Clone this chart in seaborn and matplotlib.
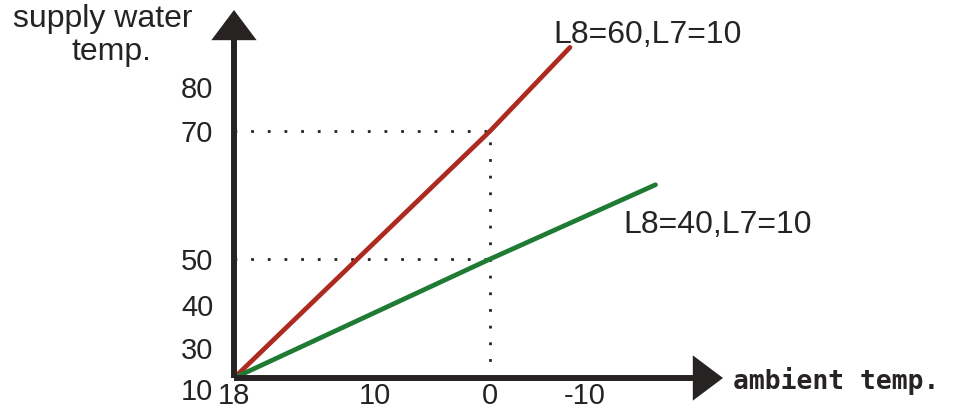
"""Supply water temperature curve vs ambient temperature (L8/L7 settings)."""
import numpy as np
import pandas as pd
import matplotlib
matplotlib.use("Agg")
import matplotlib.pyplot as plt
import seaborn as sns

# curve data: ambient temp -> supply water temp
AMB_RED = [18, 0, -8.4]
SUP_RED = [10, 70, 89]
AMB_GREEN = [18, 0, -17.4]
SUP_GREEN = [10, 50, 61.6]
LABEL_RED = "L8=60,L7=10"
LABEL_GREEN = "L8=40,L7=10"

X_TICKS = [18, 10, 0, -10]
Y_TICKS = [10, 30, 40, 50, 70, 80]

# schematic (non-uniform) axis spacing, in pixels from the origin
X_POS = [0, 141, 256, 351]
Y_POS = [0, 30, 73, 119, 247, 291]

RED = "#ad2a20"
GREEN = "#1f7a34"
INK = "#262322"


def piecewise(xp, fp):
    xp = np.asarray(xp, float)
    fp = np.asarray(fp, float)

    def make(a, b):
        lo = (b[1] - b[0]) / (a[1] - a[0])
        hi = (b[-1] - b[-2]) / (a[-1] - a[-2])

        def f(v):
            v = np.asarray(v, float)
            out = np.interp(v, a, b)
            out = np.where(v < a[0], b[0] + (v - a[0]) * lo, out)
            out = np.where(v > a[-1], b[-1] + (v - a[-1]) * hi, out)
            return out
        return f
    return make(xp, fp), make(fp, xp)


def main():
    sns.set_style("white")
    plt.rcParams["font.family"] = ["Liberation Sans", "DejaVu Sans"]

    fig = plt.figure(figsize=(9.54, 4.16), dpi=100)
    W, H = 954, 416
    ox, oy = 234, 378
    ax = fig.add_axes([ox / W, 1 - oy / H, (723 - ox) / W, (oy - 10) / H])

    df = pd.concat([
        pd.DataFrame({"ambient": AMB_RED, "supply": SUP_RED, "curve": LABEL_RED}),
        pd.DataFrame({"ambient": AMB_GREEN, "supply": SUP_GREEN, "curve": LABEL_GREEN}),
    ])
    sns.lineplot(data=df, x="ambient", y="supply", hue="curve",
                 palette={LABEL_RED: RED, LABEL_GREEN: GREEN},
                 linewidth=3.4, legend=False, ax=ax, zorder=3)

    # dotted guides at (0, 70) and 50
    dot = dict(color=INK, lw=2.0, linestyle=(0, (1, 5)), zorder=2)
    ax.plot([X_TICKS[0], 0], [70, 70], **dot)
    ax.plot([0, 0], [Y_TICKS[0], 70], **dot)
    ax.plot([X_TICKS[0], 0], [50, 50], **dot)

    # schematic scales (x increasing scale, then reversed by the limits)
    fx, ix = piecewise([-v for v in X_TICKS], X_POS)
    ax.set_xscale("function", functions=(lambda v: -fx(-np.asarray(v, float)),
                                         lambda p: -ix(-np.asarray(p, float))))
    fy, iy = piecewise(Y_TICKS, Y_POS)
    ax.set_yscale("function", functions=(fy, iy))
    ax.set_xlim(18, -24.5)
    ax.set_ylim(10, 97.5)

    ax.set_xticks(X_TICKS)
    ax.set_xticklabels([str(v) for v in X_TICKS])
    ax.set_yticks(Y_TICKS)
    ax.set_yticklabels([str(v) for v in Y_TICKS])
    ax.minorticks_off()
    ax.tick_params(axis="both", length=0, labelsize=21, labelcolor=INK)
    ax.tick_params(axis="y", pad=15)
    ax.tick_params(axis="x", pad=3)
    ax.get_yticklabels()[0].set_va("top")
    ax.set_xlabel("")
    ax.set_ylabel("")
    for s in ax.spines.values():
        s.set_visible(False)
    ax.patch.set_alpha(0)

    # axis arrows
    arrow = dict(arrowstyle="-|>,head_length=16,head_width=12",
                 mutation_scale=1, lw=4.3, color=INK, shrinkA=0, shrinkB=0,
                 joinstyle="miter", capstyle="butt")
    ax.annotate("", xy=(1, 0), xytext=(0, 0), xycoords="axes fraction",
                arrowprops=arrow, annotation_clip=False)
    ax.annotate("", xy=(0, 1), xytext=(0, 0), xycoords="axes fraction",
                arrowprops=arrow, annotation_clip=False)

    # labels
    def px(x, y):
        return x / W, 1 - y / H
    fig.text(*px(103, 27), "supply water", fontsize=23, color=INK,
             ha="center", va="baseline")
    fig.text(*px(111, 60), "temp.", fontsize=23, color=INK,
             ha="center", va="baseline")
    fig.text(*px(553, 35), LABEL_RED, fontsize=23, color=INK, va="center")
    fig.text(*px(623, 225), LABEL_GREEN, fontsize=23, color=INK, va="center")
    fig.text(*px(733, 381), "ambient temp.", fontsize=19, color=INK,
             family="DejaVu Sans Mono", weight="bold", va="center")

    fig.savefig("out.png", dpi=100)
    plt.close(fig)


if __name__ == "__main__":
    main()
